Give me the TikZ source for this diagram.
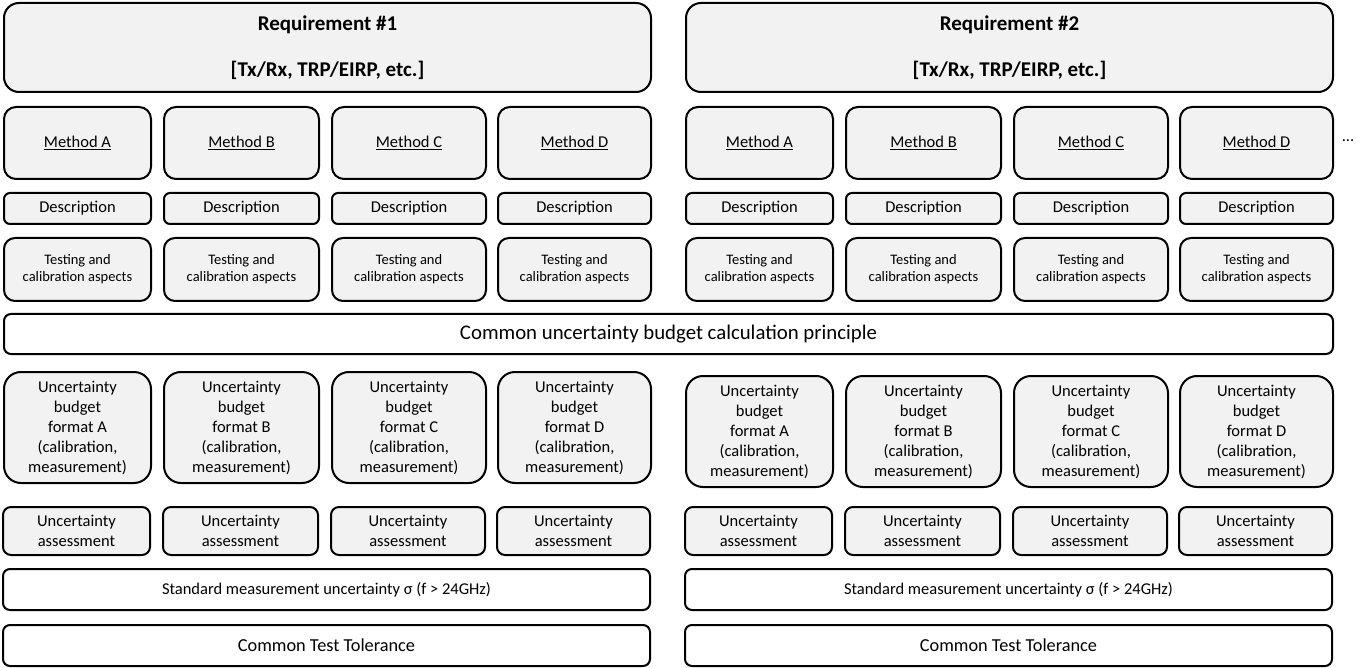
\documentclass[tikz,border=0pt]{standalone}
\usepackage{fontspec}
\setmainfont{Carlito}
\definecolor{boxgrey}{HTML}{F2F2F2}
\newcommand{\mkbox}[7]{%
  \node[#6, minimum width={(#4)-(#2)}, minimum height={(#5)-(#3)}] (#1) at (#2,#3) {#7};}
\begin{document}
\begin{tikzpicture}[x=1pt, y=-1pt,
  base/.style={draw=black, line width=2pt, inner sep=0pt, align=center, anchor=north west},
  greybox/.style={base, fill=boxgrey},
  whitebox/.style={base, fill=white},
  reqtext/.style={font=\bfseries\fontsize{21}{46}\selectfont},
  mtext/.style={font=\fontsize{16.5}{20}\selectfont},
  stext/.style={font=\fontsize{14.5}{17}\selectfont},
  ltext/.style={font=\fontsize{20.8}{25}\selectfont},
  ttext/.style={font=\fontsize{18.3}{22}\selectfont}]
\useasboundingbox (0,0) rectangle (1371,668);

% two requirement blocks, side by side
\foreach \s/\dx/\dy in {1/0/0, 2/682/4} {
  \mkbox{req\s}{3+\dx}{2}{650+\dx}{91}{greybox, rounded corners=15pt, reqtext}
        {Requirement \#\s\\[0pt][Tx/Rx, TRP/EIRP, etc.]}
  \foreach \c/\xa/\xb in {A/3/150, B/163/318, C/331/485, D/497/650} {
    \mkbox{m\s\c}{\xa+\dx}{106}{\xb+\dx}{178}{greybox, rounded corners=12pt, mtext}
          {\underline{Method \c}}
    \mkbox{d\s\c}{\xa+\dx}{192}{\xb+\dx}{223}{greybox, rounded corners=6pt, mtext}
          {Description}
    \mkbox{t\s\c}{\xa+\dx}{237}{\xb+\dx}{300}{greybox, rounded corners=11pt, stext}
          {Testing and\\calibration aspects}
    \mkbox{b\s\c}{\xa+\dx}{371+\dy}{\xb+\dx}{482+\dy}{greybox, rounded corners=17pt, mtext}
          {Uncertainty\\budget\\format \c\\(calibration,\\measurement)}
    \mkbox{u\s\c}{\xa+\dx-1}{506}{\xb+\dx-1}{554}{greybox, rounded corners=8pt, mtext}
          {Uncertainty\\assessment}
  }
  \mkbox{sig\s}{3+\dx-1}{568}{650+\dx-1}{609}{whitebox, rounded corners=7pt, mtext}
        {Standard measurement uncertainty σ (f > 24GHz)}
  \mkbox{tol\s}{3+\dx-1}{624}{650+\dx-1}{665}{whitebox, rounded corners=7pt, ttext}
        {Common Test Tolerance}
}

% shared row across both requirements
\mkbox{common}{3}{313}{1332}{353}{whitebox, rounded corners=7pt, ltext}
      {Common uncertainty budget calculation principle}

% continuation mark after the last method
\node[mtext, anchor=center] (more) at (1348,141) {...};
\end{tikzpicture}
\end{document}
